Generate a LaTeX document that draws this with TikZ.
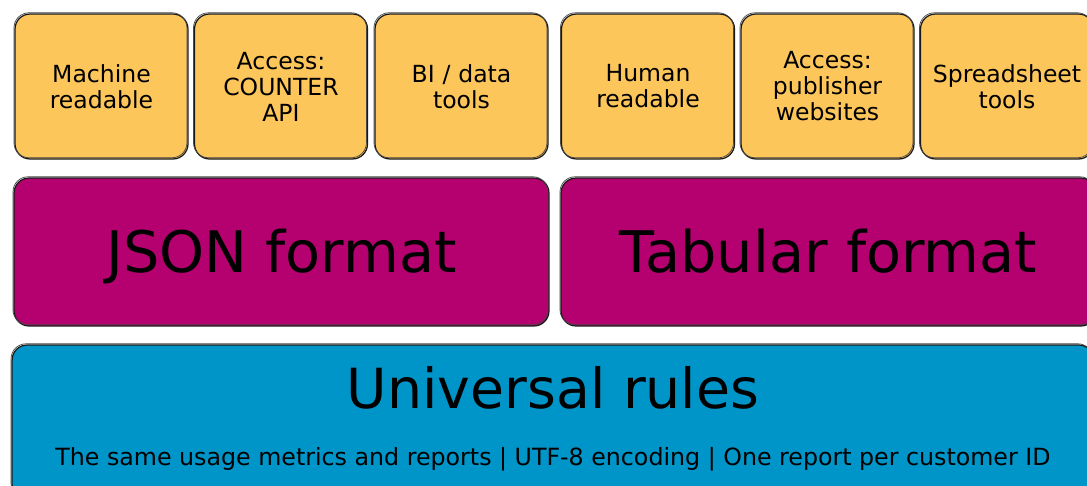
\documentclass[tikz,border=0pt]{standalone}
\usepackage{fontspec}
\setmainfont{DejaVu Sans}
\definecolor{boxyellow}{RGB}{253,198,91}
\definecolor{boxmagenta}{RGB}{181,0,111}
\definecolor{boxblue}{RGB}{0,149,200}
\definecolor{inkline}{RGB}{25,25,25}
\begin{document}
\begin{tikzpicture}[x=0.02cm,y=-0.02cm,
  sketchbox/.style={rectangle, rounded corners=0.3cm, draw=inkline, line width=0.7pt,
    inner sep=0pt, align=center, text=black,
    postaction={draw=inkline!80, line width=0.4pt,
      transform canvas={xshift=-0.6pt, yshift=0.7pt}}},
  topbox/.style={sketchbox, fill=boxyellow, minimum width=3.46cm, minimum height=2.9cm,
    text width=3.4cm, font=\fontsize{13.4}{14.8}\selectfont},
  midbox/.style={sketchbox, fill=boxmagenta, minimum width=10.7cm, minimum height=2.96cm,
    text height=23.8pt, text depth=0pt, font=\fontsize{32.6}{39}\selectfont},
  basebox/.style={sketchbox, fill=boxblue, minimum width=21.64cm, minimum height=3.1cm},
  bigtext/.style={inner sep=0pt, font=\fontsize{31.5}{38}\selectfont},
  smalltext/.style={inner sep=0pt, font=\fontsize{13.5}{16}\selectfont}
]
\useasboundingbox (0,0) rectangle (1087,486);
\fill[white] (0,0) rectangle (1087,486);

\node[topbox] (mach) at (101.5,86.5) {Machine\\readable};
\node[topbox] (api)  at (281,86.5) {Access:\\COUNTER\\API};
\node[topbox] (bi)   at (461.5,86.5) {BI / data\\tools};
\node[topbox] (hum)  at (648,86.5) {Human\\readable};
\node[topbox] (web)  at (827.5,86.5) {Access:\\publisher\\websites};
\node[topbox] (sheet) at (1007,86.5) {Spreadsheet\\tools};

\node[midbox] (json) at (281.5,252) {JSON format};
\node[midbox] (tab)  at (828.5,252) {Tabular format};

\node[basebox] (base) at (553,422.5) {};
\node[bigtext] (univ) at (553,388) {Universal rules};
\node[smalltext] (rules) at (553,459) {The same usage metrics and reports | UTF-8 encoding | One report per customer ID};
\end{tikzpicture}
\end{document}
